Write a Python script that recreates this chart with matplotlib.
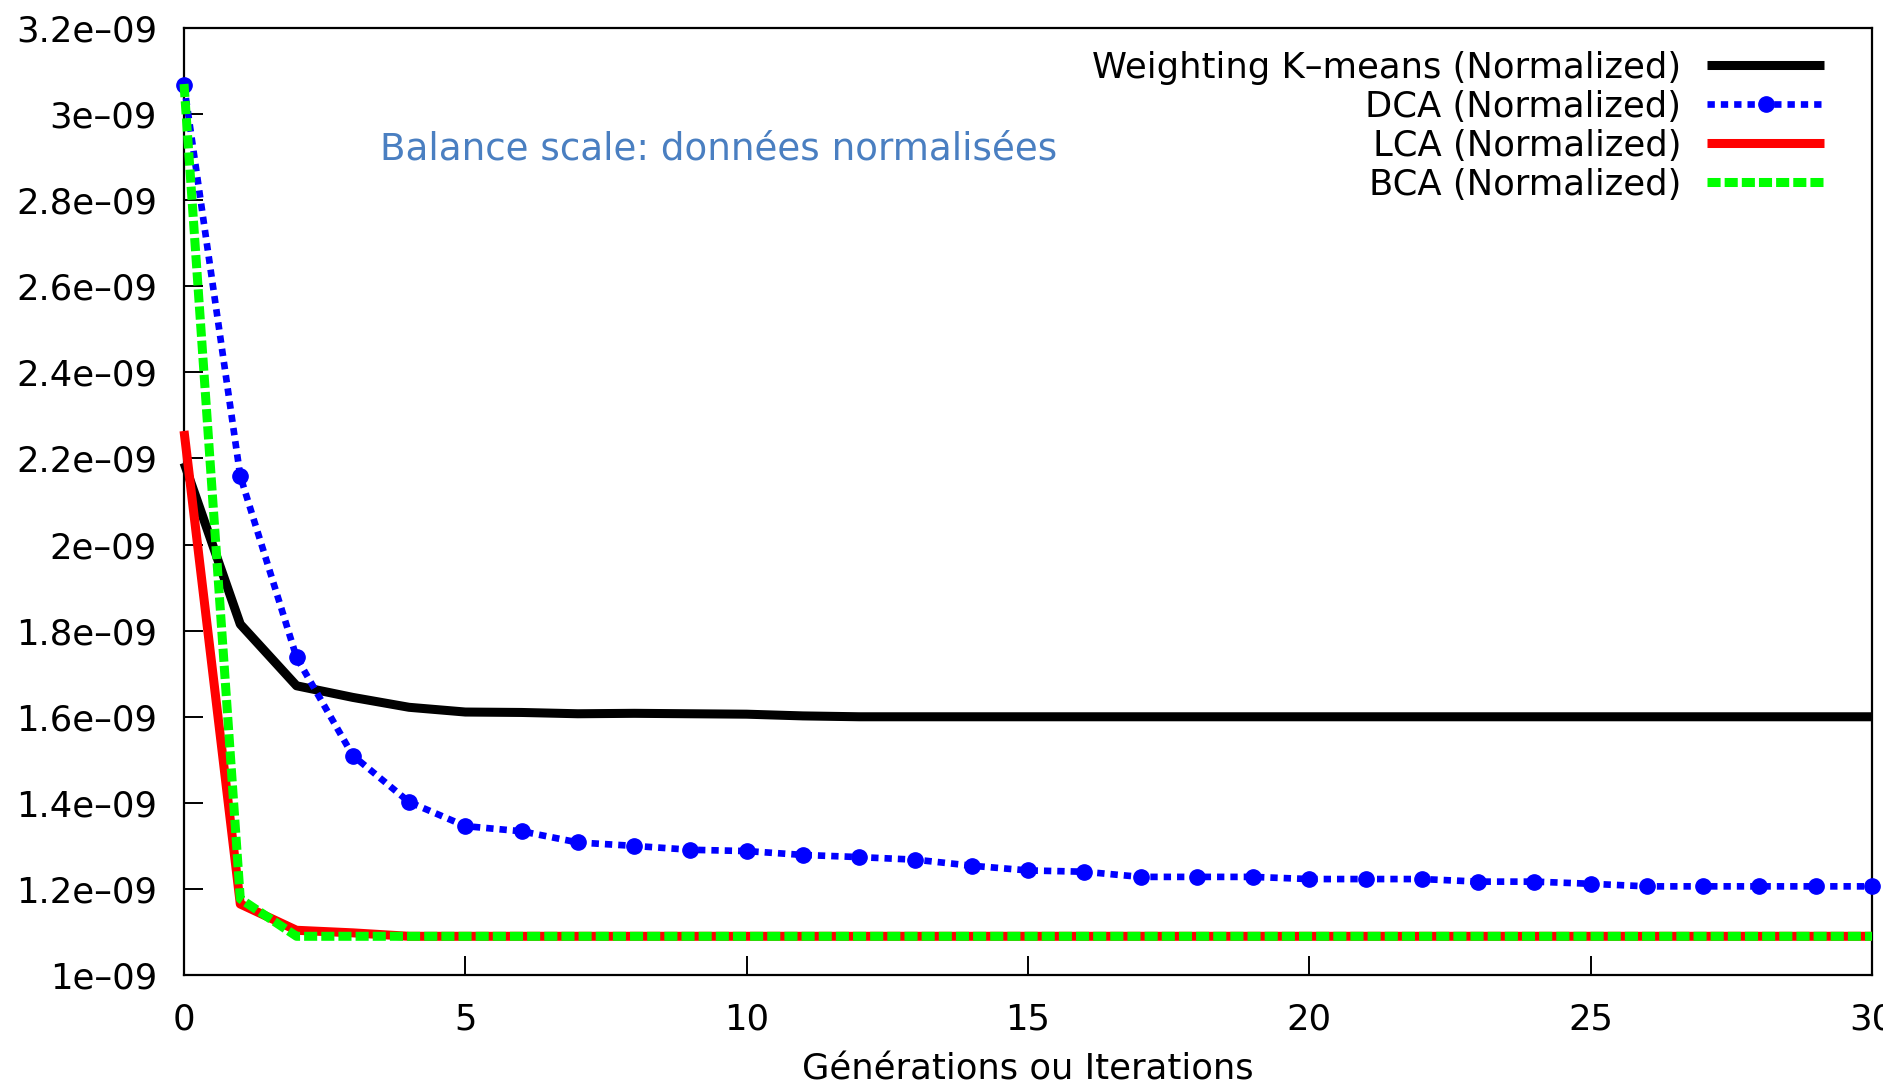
import matplotlib
matplotlib.use("Agg")
import matplotlib.pyplot as plt
from matplotlib.transforms import Bbox, TransformedBbox

# Objective value per generation / iteration (normalized Balance Scale data)
iterations = list(range(31))
weighting_kmeans = [2.19e-9, 1.815e-9, 1.672e-9, 1.645e-9, 1.622e-9, 1.611e-9,
                    1.610e-9, 1.607e-9, 1.608e-9, 1.607e-9, 1.606e-9, 1.602e-9,
                    1.600e-9, 1.600e-9, 1.600e-9, 1.600e-9, 1.600e-9, 1.600e-9,
                    1.600e-9, 1.600e-9, 1.600e-9, 1.600e-9, 1.600e-9, 1.600e-9,
                    1.600e-9, 1.600e-9, 1.600e-9, 1.600e-9, 1.600e-9, 1.600e-9,
                    1.600e-9]
dca = [3.068e-9, 2.159e-9, 1.738e-9, 1.510e-9, 1.402e-9, 1.346e-9, 1.334e-9,
       1.308e-9, 1.300e-9, 1.291e-9, 1.288e-9, 1.279e-9, 1.274e-9, 1.268e-9,
       1.254e-9, 1.243e-9, 1.240e-9, 1.228e-9, 1.228e-9, 1.228e-9, 1.223e-9,
       1.223e-9, 1.223e-9, 1.217e-9, 1.217e-9, 1.212e-9, 1.206e-9, 1.206e-9,
       1.206e-9, 1.206e-9, 1.206e-9]
lca = [2.264e-9, 1.165e-9, 1.104e-9, 1.098e-9] + [1.090e-9] * 27
bca = [3.070e-9, 1.177e-9, 1.090e-9, 1.090e-9] + [1.090e-9] * 27

series_labels = ["Weighting K\u2013means (Normalized)", "DCA (Normalized)",
                 "LCA (Normalized)", "BCA (Normalized)"]
x_ticks = [0, 5, 10, 15, 20, 25, 30]
y_ticks = [1.0e-9, 1.2e-9, 1.4e-9, 1.6e-9, 1.8e-9, 2.0e-9, 2.2e-9, 2.4e-9,
           2.6e-9, 2.8e-9, 3.0e-9, 3.2e-9]
y_tick_labels = ["1e\u201309", "1.2e\u201309", "1.4e\u201309", "1.6e\u201309",
                 "1.8e\u201309", "2e\u201309", "2.2e\u201309", "2.4e\u201309",
                 "2.6e\u201309", "2.8e\u201309", "3e\u201309", "3.2e\u201309"]
title_text = "Balance scale: donn\u00e9es normalis\u00e9es"
x_label = "G\u00e9n\u00e9rations ou Iterations"

plt.rcParams['font.family'] = ['DejaVu Sans']
FS = 25.5

fig = plt.figure(figsize=(19.03, 10.87), dpi=100)
ax = fig.add_axes([0.0967, 0.1030, 0.8870, 0.8712])

ax.plot(iterations, weighting_kmeans, color='black', lw=6.5,
        solid_capstyle='butt', label=series_labels[0], zorder=2, clip_on=False)
ax.plot(iterations, dca, color='#0000ff', lw=4.8, dashes=(1.1, 0.9),
        dash_capstyle='butt', marker='o', ms=11, label=series_labels[1],
        zorder=3, clip_on=False)
ax.plot(iterations, lca, color='#ff0000', lw=6.5, solid_capstyle='butt',
        label=series_labels[2], zorder=4, clip_on=False)
ax.plot(iterations, bca, color='#00ff00', lw=6.5, dashes=(1.45, 0.45),
        dash_capstyle='butt', label=series_labels[3], zorder=5, clip_on=False)

ax.set_xlim(0, 30)
ax.set_ylim(1.0e-9, 3.2e-9)
ax.set_xticks(x_ticks)
ax.set_yticks(y_ticks, y_tick_labels)
ax.tick_params(direction='in', length=14, width=1.4, labelsize=FS, pad=19.5,
               colors='black')
for sp in ax.spines.values():
    sp.set_linewidth(1.6)
    sp.set_color('black')

ax.set_xlabel(x_label, fontsize=FS, labelpad=12)

ax.legend(loc='upper right', bbox_to_anchor=(0.9716, 0.976), frameon=False,
          markerfirst=False, fontsize=FS, handlelength=3.3, handletextpad=0.73,
          labelspacing=0.14, borderpad=0, borderaxespad=0, numpoints=1)

fig.text(380 / 1903, 1 - 160 / 1087, title_text, fontsize=26.8,
         color='#4a7fc1', ha='left', va='baseline')

# the rightmost tick label runs off the right edge of the image
clip = TransformedBbox(Bbox([[0, 0], [1883 / 1903, 1]]), fig.transFigure)
for lbl in ax.get_xticklabels():
    lbl.set_clip_box(clip)
    lbl.set_clip_on(True)

fig.savefig("out.png", dpi=100, facecolor='white')
